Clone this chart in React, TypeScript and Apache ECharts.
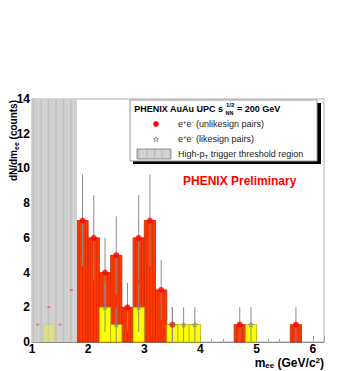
import React, { useEffect, useRef } from "react";
import * as echarts from "echarts";

// ---- data ----
const BIN_WIDTH = 0.2;
const unlikeBinStart = [1.8, 2.0, 2.2, 2.4, 2.6, 2.8, 3.0, 3.2, 3.4, 4.6, 5.6];
const unlikeCounts = [7, 6, 4, 5, 2, 6, 7, 3, 1, 1, 1];
const unlikeErrors = [2.65, 2.45, 2.0, 2.24, 1.41, 2.45, 2.65, 1.73, 1.0, 1.0, 1.0];
const likeBinStart = [2.2, 2.4, 2.8, 3.4, 3.6, 3.8, 4.8];
const likeCounts = [2, 1, 2, 1, 1, 1, 1];
const likeErrors = [1.41, 1.0, 1.41, 1.0, 1.0, 1.0, 1.0];
const lowUnlikeCenters = [1.1, 1.3, 1.5, 1.7];
const lowUnlikeCounts = [1, 2, 1, 3];
const lowLikeBinStart = [1.2];
const lowLikeCounts = [1];
const triggerRegion = [1.0, 1.8];
const xRange = [1, 6.2];
const yRange = [0, 14];

const FONT = "'Liberation Sans', Arial, Helvetica, sans-serif";
const STAR_PATH =
  "path://M50,0 L61,35 L98,35 L68,57 L79,91 L50,70 L21,91 L32,57 L2,35 L39,35 Z";

function barRenderer(fill: string, stroke: string, stripe: string | null, opacity = 1) {
  return (params: any, api: any) => {
    const x0 = api.value(0);
    const y = api.value(1);
    const p0 = api.coord([x0, y]);
    const p1 = api.coord([x0 + BIN_WIDTH, 0]);
    const w = p1[0] - p0[0];
    const h = p1[1] - p0[1];
    const children: any[] = [
      {
        type: "rect",
        shape: { x: p0[0], y: p0[1], width: w, height: h },
        style: { fill, stroke, lineWidth: 0.8, opacity },
      },
    ];
    if (stripe) {
      for (let sx = p0[0] + 2.5; sx < p1[0] - 1; sx += 3) {
        children.push({
          type: "line",
          shape: { x1: sx, y1: p0[1] + 1, x2: sx, y2: p1[1] },
          style: { stroke: stripe, lineWidth: 0.8, opacity },
        });
      }
    }
    return { type: "group", children };
  };
}

function errorRenderer(params: any, api: any) {
  const x = api.value(0);
  const lo = api.coord([x, api.value(1)]);
  const hi = api.coord([x, api.value(2)]);
  return {
    type: "line",
    shape: { x1: lo[0], y1: lo[1], x2: hi[0], y2: hi[1] },
    style: { stroke: "#8c8c8c", lineWidth: 1 },
  };
}

function regionRenderer(params: any, api: any) {
  const p0 = api.coord([api.value(0), yRange[1]]);
  const p1 = api.coord([api.value(1), yRange[0]]);
  const children: any[] = [
    {
      type: "rect",
      shape: { x: p0[0], y: p0[1], width: p1[0] - p0[0], height: p1[1] - p0[1] },
      style: { fill: "#cccccc" },
    },
  ];
  let k = 0;
  for (let sx = p0[0] + 1.5; sx < p1[0]; sx += 2.5) {
    children.push({
      type: "line",
      shape: { x1: sx, y1: p0[1], x2: sx, y2: p1[1] },
      style: { stroke: k % 3 === 0 ? "#bdbdbd" : "#dadada", lineWidth: 0.8 },
    });
    k++;
  }
  return { type: "group", children };
}

function starPoints(cx: number, cy: number, r: number) {
  const pts: number[][] = [];
  for (let i = 0; i < 10; i++) {
    const rr = i % 2 === 0 ? r : r * 0.42;
    const a = -Math.PI / 2 + (i * Math.PI) / 5;
    pts.push([cx + rr * Math.cos(a), cy + rr * Math.sin(a)]);
  }
  return pts;
}

export default function App() {
  const ref = useRef<HTMLDivElement>(null);

  useEffect(() => {
    if (!ref.current) return;
    const chart = echarts.init(ref.current, null, { renderer: "svg" });

    const unlikeBars = unlikeBinStart.map((x, i) => [x, unlikeCounts[i]]);
    const likeBars = likeBinStart.map((x, i) => [x, likeCounts[i]]);
    const unlikeErr = unlikeBinStart.map((x, i) => [
      x + BIN_WIDTH / 2,
      unlikeCounts[i] - unlikeErrors[i],
      unlikeCounts[i] + unlikeErrors[i],
    ]);
    const likeErr = likeBinStart.map((x, i) => [
      x + BIN_WIDTH / 2,
      likeCounts[i] - likeErrors[i],
      likeCounts[i] + likeErrors[i],
    ]);
    const unlikePts = unlikeBinStart.map((x, i) => [x + BIN_WIDTH / 2, unlikeCounts[i]]);
    const likePts = likeBinStart.map((x, i) => [x + BIN_WIDTH / 2, likeCounts[i]]);
    const lowUnlikePts = lowUnlikeCenters.map((x, i) => [x, lowUnlikeCounts[i]]);
    const lowLikeBars = lowLikeBinStart.map((x, i) => [x, lowLikeCounts[i]]);

    const labelStyle = { fontFamily: FONT, fontWeight: "bold" as const, fontSize: 12, color: "#000" };

    const option: any = {
      animation: false,
      backgroundColor: "#fff",
      grid: {
        left: 32,
        right: 30,
        top: 99,
        bottom: 29,
        show: true,
        borderColor: "#b0b0b0",
        borderWidth: 1,
        backgroundColor: "transparent",
      },
      xAxis: [
        {
          type: "value",
          min: xRange[0],
          max: xRange[1],
          interval: 1,
          position: "bottom",
          splitLine: { show: false },
          axisLine: { show: true, lineStyle: { color: "#8a8a8a", width: 1 } },
          axisTick: { show: true, inside: true, length: 6, lineStyle: { color: "#999" } },
          axisLabel: {
            ...labelStyle,
            margin: 1,
            lineHeight: 12,
            formatter: (v: number) => (Math.abs(v - Math.round(v)) < 1e-6 ? String(Math.round(v)) : ""),
          },
        },
        {
          type: "value",
          min: xRange[0],
          max: xRange[1],
          interval: 0.2,
          position: "bottom",
          splitLine: { show: false },
          axisLine: { show: false },
          axisTick: { show: true, inside: true, length: 3, lineStyle: { color: "#aaa" } },
          axisLabel: { show: false },
        },
      ],
      yAxis: {
        type: "value",
        min: yRange[0],
        max: yRange[1],
        interval: 2,
        splitLine: { show: false },
        axisLine: { show: true, lineStyle: { color: "#8a8a8a", width: 1 } },
        axisTick: { show: true, inside: true, length: 6, lineStyle: { color: "#999" } },
        axisLabel: { ...labelStyle, margin: 2 },
      },
      series: [
        {
          type: "custom",
          name: "unlike bars",
          z: 2,
          renderItem: barRenderer("#ff3a00", "#c82400", "#e02a00"),
          encode: { x: 0, y: 1 },
          data: unlikeBars,
        },
        {
          type: "custom",
          name: "like bars",
          z: 3,
          renderItem: barRenderer("#ffff00", "#b8b000", null),
          encode: { x: 0, y: 1 },
          data: likeBars,
        },
        {
          type: "custom",
          name: "unlike errors",
          z: 4,
          renderItem: errorRenderer,
          encode: { x: 0, y: [1, 2] },
          data: unlikeErr,
        },
        {
          type: "custom",
          name: "like errors",
          z: 4,
          renderItem: errorRenderer,
          encode: { x: 0, y: [1, 2] },
          data: likeErr,
        },
        {
          type: "scatter",
          name: "unlike",
          z: 5,
          symbol: "circle",
          symbolSize: 6,
          itemStyle: { color: "#ff0000" },
          data: unlikePts,
        },
        {
          type: "scatter",
          name: "like",
          z: 5,
          symbol: STAR_PATH,
          symbolSize: 5,
          itemStyle: { color: "rgba(255,255,255,0)", borderColor: "#7a7a7a", borderWidth: 0.8 },
          data: likePts,
        },
        {
          type: "custom",
          name: "trigger region",
          z: 6,
          renderItem: regionRenderer,
          encode: { x: [0, 1] },
          data: [[triggerRegion[0], triggerRegion[1]]],
        },
        {
          type: "custom",
          name: "low like",
          z: 7,
          renderItem: barRenderer("#ffff00", "#b8b000", null, 0.3),
          encode: { x: 0, y: 1 },
          data: lowLikeBars,
        },
        {
          type: "scatter",
          name: "low unlike",
          z: 7,
          symbol: "rect",
          symbolSize: [3, 2],
          itemStyle: { color: "#ff3030", opacity: 0.55 },
          data: lowUnlikePts,
        },
      ],
      graphic: [
        // y title
        {
          type: "text",
          x: 13,
          y: 100,
          rotation: Math.PI / 2,
          style: {
            text: "{a|dN/dm}{s|ee}{a| (counts)}",
            align: "right",
            verticalAlign: "middle",
            rich: {
              a: { fontFamily: FONT, fontWeight: "bold", fontSize: 10, fill: "#000", lineHeight: 13 },
              s: { fontFamily: FONT, fontWeight: "bold", fontSize: 7, fill: "#000", lineHeight: 13, verticalAlign: "bottom" },
            },
          },
        },
        // x title
        {
          type: "text",
          x: 324,
          y: 363,
          style: {
            text: "{a|m}{s|ee}{a| (GeV/c}{p|2}{a|)}",
            align: "right",
            verticalAlign: "middle",
            rich: {
              a: { fontFamily: FONT, fontWeight: "bold", fontSize: 12, fill: "#000", lineHeight: 13 },
              s: { fontFamily: FONT, fontWeight: "bold", fontSize: 8, fill: "#000", lineHeight: 13, verticalAlign: "bottom" },
              p: { fontFamily: FONT, fontWeight: "bold", fontSize: 8, fill: "#000", lineHeight: 13, verticalAlign: "top" },
            },
          },
        },
        // PHENIX Preliminary
        {
          type: "text",
          x: 183,
          y: 181,
          style: {
            text: "PHENIX Preliminary",
            fontFamily: FONT,
            fontWeight: "bold",
            fontSize: 12,
            fill: "#ff0000",
            align: "left",
            verticalAlign: "middle",
          },
        },
        // legend shadow + box
        {
          type: "rect",
          shape: { x: 133, y: 103, width: 188, height: 61 },
          style: { fill: "#000" },
        },
        {
          type: "rect",
          shape: { x: 130, y: 100, width: 187, height: 61 },
          style: { fill: "#fff", stroke: "#999", lineWidth: 1 },
        },
        {
          type: "text",
          x: 223,
          y: 109,
          style: {
            text: "PHENIX AuAu UPC s",
            fontFamily: FONT,
            fontWeight: "bold",
            fontSize: 9,
            fill: "#000",
            align: "right",
            verticalAlign: "middle",
          },
        },
        {
          type: "text",
          x: 226,
          y: 105,
          style: { text: "1/2", fontFamily: FONT, fontWeight: "bold", fontSize: 6, fill: "#000", align: "left", verticalAlign: "middle" },
        },
        {
          type: "text",
          x: 225.5,
          y: 112.5,
          style: { text: "NN", fontFamily: FONT, fontWeight: "bold", fontSize: 5.5, fill: "#000", align: "left", verticalAlign: "middle" },
        },
        {
          type: "text",
          x: 237,
          y: 109,
          style: { text: "= 200 GeV", fontFamily: FONT, fontWeight: "bold", fontSize: 9, fill: "#000", align: "left", verticalAlign: "middle" },
        },
        { type: "circle", shape: { cx: 156, cy: 124, r: 2.8 }, style: { fill: "#ff0000" } },
        {
          type: "text",
          x: 178,
          y: 124,
          style: {
            text: "{n|e}{p|+}{n|e}{p|-}{n| (unlikesign pairs)}",
            align: "left",
            verticalAlign: "middle",
            rich: {
              n: { fontFamily: FONT, fontSize: 9, fill: "#222", lineHeight: 11 },
              p: { fontFamily: FONT, fontSize: 6, fill: "#222", lineHeight: 11, verticalAlign: "top" },
            },
          },
        },
        {
          type: "polygon",
          shape: { points: starPoints(156, 139.5, 2.6) },
          style: { fill: "none", stroke: "#777", lineWidth: 0.7 },
        },
        {
          type: "text",
          x: 178,
          y: 139,
          style: {
            text: "{n|e}{p|+}{n|e}{p|-}{n| (likesign pairs)}",
            align: "left",
            verticalAlign: "middle",
            rich: {
              n: { fontFamily: FONT, fontSize: 9, fill: "#222", lineHeight: 11 },
              p: { fontFamily: FONT, fontSize: 6, fill: "#222", lineHeight: 11, verticalAlign: "top" },
            },
          },
        },
        {
          type: "rect",
          shape: { x: 137, y: 149, width: 34, height: 10 },
          style: { fill: "#cccccc", stroke: "#777", lineWidth: 0.8 },
        },
        ...Array.from({ length: 12 }, (_, i) => ({
          type: "line",
          shape: { x1: 139 + i * 2.6, y1: 150, x2: 139 + i * 2.6, y2: 158 },
          style: { stroke: i % 3 === 0 ? "#bdbdbd" : "#e0e0e0", lineWidth: 0.8 },
        })),
        {
          type: "text",
          x: 178,
          y: 154,
          style: {
            text: "{n|High-p}{s|T}{n| trigger threshold region}",
            align: "left",
            verticalAlign: "middle",
            rich: {
              n: { fontFamily: FONT, fontSize: 9, fill: "#222", lineHeight: 11 },
              s: { fontFamily: FONT, fontSize: 6, fill: "#222", lineHeight: 11, verticalAlign: "bottom" },
            },
          },
        },
      ],
    };

    chart.setOption(option);
    return () => chart.dispose();
  }, []);

  return (
    <div
      ref={ref}
      style={{ position: "fixed", left: 0, top: 0, width: 354, height: 371, background: "#fff" }}
    />
  );
}
